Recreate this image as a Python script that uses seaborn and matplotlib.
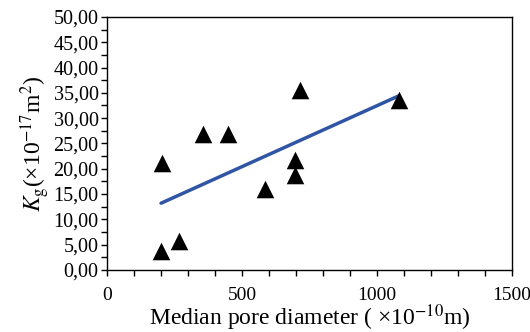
import numpy as np
import pandas as pd
import seaborn as sns
import matplotlib
matplotlib.use("Agg")
import matplotlib.pyplot as plt
from matplotlib.ticker import MultipleLocator, FuncFormatter

# Data
pore_diameter = [200, 267, 204, 356, 448, 585, 696, 696, 715, 1081]
kg_values = [3.8, 5.7, 21.1, 26.9, 26.9, 16.0, 21.7, 18.8, 35.6, 33.6]

x_ticks = [0, 500, 1000, 1500]
y_ticks = [0, 5, 10, 15, 20, 25, 30, 35, 40, 45, 50]

df = pd.DataFrame({"d": pore_diameter, "k": kg_values})

sns.set_theme(style="ticks")
plt.rcParams['font.family'] = ['Liberation Serif', 'DejaVu Serif']
plt.rcParams['mathtext.fontset'] = 'stix'

fig = plt.figure(figsize=(5.30, 3.32), dpi=100)
ax = fig.add_axes([0.202, 0.187, 0.764, 0.762])

sns.regplot(data=df, x="d", y="k", ax=ax, ci=None, truncate=True,
            marker="^",
            scatter_kws=dict(s=160, color="black", alpha=1, edgecolor="black", linewidths=0, zorder=3),
            line_kws=dict(color="#2f55a4", linewidth=2.5, zorder=2))

ax.set_xlim(0, 1500)
ax.set_ylim(0, 50)
ax.set_xticks(x_ticks)
ax.set_yticks(y_ticks)
ax.xaxis.set_minor_locator(MultipleLocator(100))
ax.yaxis.set_minor_locator(MultipleLocator(2.5))
ax.yaxis.set_major_formatter(FuncFormatter(lambda v, p: f"{v:.2f}".replace(".", ",")))
ax.xaxis.set_major_formatter(FuncFormatter(lambda v, p: f"{int(v)}"))

for s in ax.spines.values():
    s.set_visible(True)
    s.set_color("black")
    s.set_linewidth(1.0)

ax.tick_params(axis="both", which="both", direction="out", color="black", width=1.0)
ax.tick_params(axis="y", which="major", length=4, labelsize=14.5, colors="black", pad=2)
ax.tick_params(axis="x", which="major", length=4, labelsize=14, colors="black", pad=8)
ax.tick_params(axis="both", which="minor", length=4)

ax.set_xlabel("Median pore diameter ( ×10$^{-10}$m)", fontsize=17, color="black", labelpad=-1)
ax.set_ylabel("$K_\\mathrm{g}$(×10$^{-17}$m$^2$)", fontsize=17, color="black", labelpad=1)

fig.savefig("out.png", dpi=100)
